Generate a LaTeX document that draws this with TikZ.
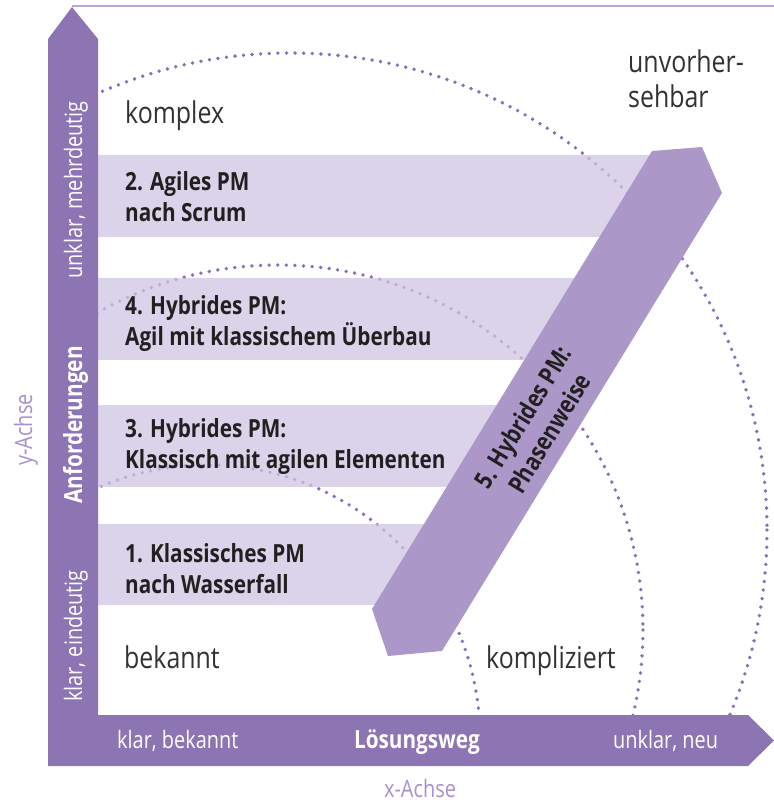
\documentclass[tikz,border=0pt]{standalone}
\usepackage{fontspec}
\setmainfont{Open Sans}[FakeStretch=0.83]
\definecolor{axispurple}{RGB}{141,116,178}
\definecolor{diagpurple}{RGB}{171,152,200}
\definecolor{bandpurple}{RGB}{206,196,226}
\definecolor{dotpurple}{RGB}{138,110,185}
\definecolor{linepurple}{RGB}{185,165,220}
\definecolor{labelpurple}{RGB}{165,145,205}
\definecolor{darktext}{RGB}{35,31,32}
\definecolor{lighttext}{RGB}{50,50,50}
\newcommand\myBandFont{\fontsize{25}{30.7}\selectfont\bfseries}
\newcommand\myBigFont{\fontsize{30}{35}\selectfont}
\newcommand\myAxFont{\fontsize{24}{28}\selectfont}
\tikzset{
  dotarc/.style={draw=dotpurple, line width=3.8pt, line cap=round, dash pattern=on 0pt off 8.6pt},
  bandfill/.style={fill=bandpurple, fill opacity=0.75, draw=none},
  bandtext/.style={font=\myBandFont, text=darktext, align=left, anchor=base west, inner sep=0pt},
  bigtext/.style={font=\myBigFont, text=lighttext, align=left, anchor=base west, inner sep=0pt},
  axtext/.style={font=\myAxFont, text=white, inner sep=0pt},
  axbold/.style={font=\myBandFont, text=white, inner sep=0pt},
  achse/.style={font=\myAxFont, text=labelpurple, inner sep=0pt}
}
\begin{document}
\begin{tikzpicture}[x=1pt,y=-1pt]
\useasboundingbox (0,0) rectangle (774,804);
% top line
\draw[draw=linepurple, line width=1.5pt] (72,6) -- (774,6);
% dotted arcs
\begin{scope}
  \clip (98,0) rectangle (774,715);
  \draw[dotarc] (290,530) circle[radius=477];
  \draw[dotarc] (278,630) circle[radius=365];
  \draw[dotarc] (207,738) circle[radius=273];
\end{scope}
% bands
\fill[bandfill] (98,155) rectangle (665,237);
\fill[bandfill] (98,278) rectangle (590,360);
\fill[bandfill] (98,405) rectangle (512,487);
\fill[bandfill] (98,524) rectangle (440,605);
% diagonal band
\fill[diagpurple] (652,151) -- (702,147) -- (722,193) -- (442,651) -- (388,656) -- (372,609) -- cycle;
% axes
\fill[axispurple] (72,7) -- (98,39) -- (98,715) -- (748,715) -- (774,740.5) -- (748,766) -- (48,766) -- (48,39) -- cycle;
% band texts (anchored at the baseline of the last line)
\node[bandtext] (b2) at (125,221) {2. Agiles PM\\nach Scrum};
\node[bandtext] (b4) at (125,345) {4. Hybrides PM:\\Agil mit klassischem Überbau};
\node[bandtext] (b3) at (125,468) {3. Hybrides PM:\\Klassisch mit agilen Elementen};
\node[bandtext] (b1) at (125,593) {1. Klassisches PM\\nach Wasserfall};
% diagonal text
\node[font=\myBandFont, text=darktext, align=center, rotate=58.6, inner sep=0pt] (b5) at (536,425) {5. Hybrides PM:\\Phasenweise};
% region labels
\node[bigtext] (komplex) at (125,123) {komplex};
\node[bigtext] (unvorher) at (628,107) {unvorher-\\sehbar};
\node[bigtext] (bekannt) at (124,668) {bekannt};
\node[bigtext] (kompliziert) at (486,668) {kompliziert};
% vertical axis labels
\node[axtext, rotate=90, anchor=base] (ymehr) at (82,190) {unklar, mehrdeutig};
\node[axbold, rotate=90, anchor=base] (yanf) at (82,425) {Anforderungen};
\node[axtext, rotate=90, anchor=base] (yklar) at (82,636) {klar, eindeutig};
% horizontal axis labels
\node[axtext, anchor=base west] (xklar) at (117,748) {klar, bekannt};
\node[axbold, anchor=base] (xloes) at (417,748) {Lösungsweg};
\node[axtext, anchor=base west] (xneu) at (613,748) {unklar, neu};
% axis names
\node[achse, rotate=90, anchor=base] (yachse) at (32,430) {y-Achse};
\node[achse, anchor=base] (xachse) at (420,797) {x-Achse};
\end{tikzpicture}
\end{document}
